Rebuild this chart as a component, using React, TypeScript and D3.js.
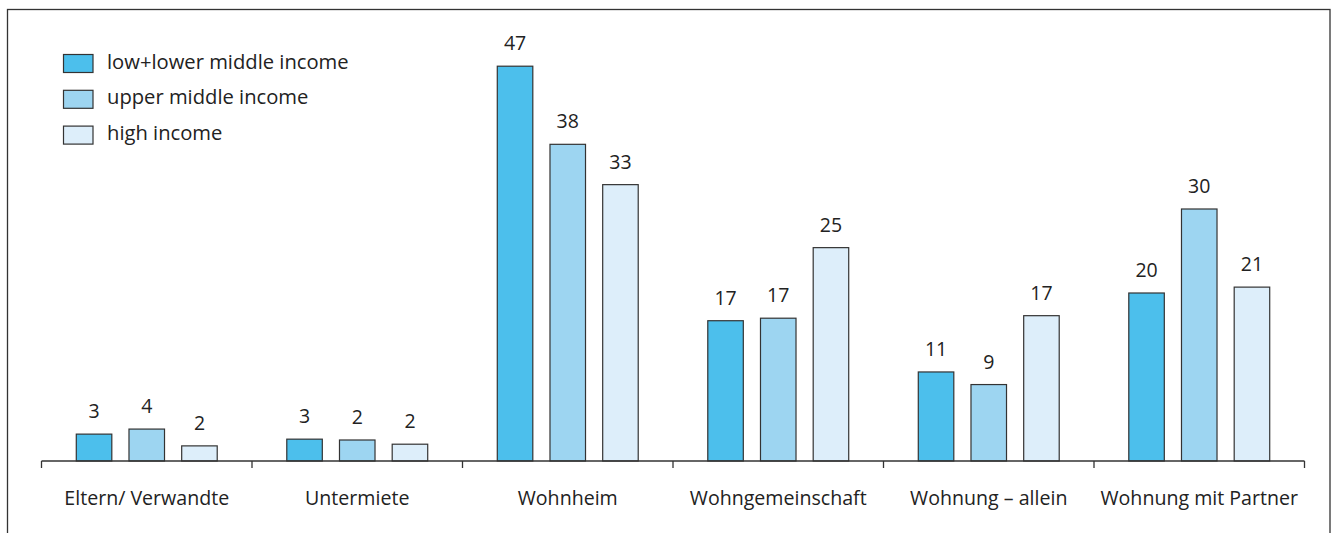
import React from "react";
import * as d3 from "d3";

const categories = [
  "Eltern/ Verwandte",
  "Untermiete",
  "Wohnheim",
  "Wohngemeinschaft",
  "Wohnung – allein",
  "Wohnung mit Partner",
];
const seriesNames = ["low+lower middle income", "upper middle income", "high income"];
const seriesColors = ["#4cbfec", "#9dd5f1", "#ddeefa"];
const lowIncome = [3.2, 2.6, 47, 16.7, 10.6, 20.0];
const upperMiddle = [3.8, 2.5, 37.7, 17.0, 9.1, 30.0];
const highIncome = [1.8, 2.0, 32.9, 25.4, 17.3, 20.7];
const lowLabels = ["3", "3", "47", "17", "11", "20"];
const upperLabels = ["4", "2", "38", "17", "9", "30"];
const highLabels = ["2", "2", "33", "25", "17", "21"];

const W = 1333;
const H = 533;
const FONT = "'Open Sans', 'Noto Sans', sans-serif";
const TEXT = "#222";
const STROKE = "#333";

export default function App() {
  const seriesValues = [lowIncome, upperMiddle, highIncome];
  const seriesLabels = [lowLabels, upperLabels, highLabels];
  const baseY = 461;
  const x0 = d3.scaleBand<string>().domain(categories).range([41.5, 1304.5]).paddingInner(0).paddingOuter(0);
  const x1 = d3
    .scaleBand<string>()
    .domain(seriesNames)
    .range([0, x0.bandwidth()])
    .paddingInner(0.326)
    .paddingOuter(0.66);
  const y = d3.scaleLinear().domain([0, 50]).range([baseY, baseY - 420]);
  const ticks = [...categories.map((c) => x0(c) as number), 1304.5];

  return (
    <svg
      width={W}
      height={H}
      style={{ position: "absolute", left: 0, top: 0, background: "#fff" }}
      fontFamily={FONT}
    >
      <rect x={7.5} y={9.5} width={1322.5} height={600} fill="#fff" stroke={STROKE} strokeWidth={1.3} />
      {/* legend */}
      {seriesNames.map((s, i) => (
        <g key={s} transform={`translate(0, ${i * 35.8})`}>
          <rect x={63.5} y={54.5} width={29.5} height={18} fill={seriesColors[i]} stroke={STROKE} strokeWidth={1.2} />
          <text x={107} y={68.5} fontSize={20.2} fill={TEXT}>
            {s}
          </text>
        </g>
      ))}
      {/* bars */}
      {categories.map((c, ci) => (
        <g key={c} transform={`translate(${x0(c)},0)`}>
          {seriesNames.map((s, si) => {
            const v = seriesValues[si][ci];
            const bx = x1(s) as number;
            return (
              <g key={s}>
                <rect
                  x={bx}
                  y={y(v)}
                  width={x1.bandwidth()}
                  height={baseY - y(v)}
                  fill={seriesColors[si]}
                  stroke={STROKE}
                  strokeWidth={1.2}
                />
                <text
                  x={bx + x1.bandwidth() / 2}
                  y={y(v) - 16}
                  textAnchor="middle"
                  fontSize={19.5}
                  fill={TEXT}
                >
                  {seriesLabels[si][ci]}
                </text>
              </g>
            );
          })}
          <text
            x={x0.bandwidth() / 2}
            y={505}
            textAnchor="middle"
            fontSize={19.6}
            fill={TEXT}
          >
            {c}
          </text>
        </g>
      ))}
      {/* axis */}
      <line x1={41.5} x2={1304.5} y1={baseY} y2={baseY} stroke={STROKE} strokeWidth={1.3} />
      {ticks.map((t, i) => (
        <line key={i} x1={t} x2={t} y1={baseY} y2={baseY + 7} stroke={STROKE} strokeWidth={1.3} />
      ))}
    </svg>
  );
}
